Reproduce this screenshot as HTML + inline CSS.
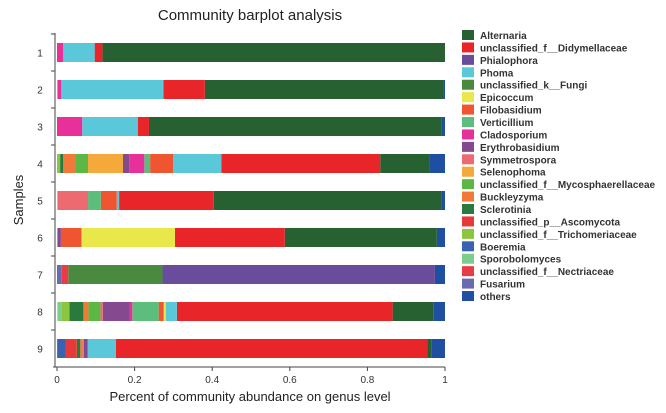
<!DOCTYPE html>
<html><head><meta charset="utf-8"><style>
body{margin:0;background:#fff;}
svg{font-family:"Liberation Sans",Arial,sans-serif;display:block}
</style></head><body>
<svg id="chart" width="666" height="413">
<text x="250" y="20" text-anchor="middle" font-size="15" fill="#222">Community barplot analysis</text>
<text transform="translate(23,200) rotate(-90)" text-anchor="middle" font-size="13" fill="#222">Samples</text>
<text x="250" y="401" text-anchor="middle" font-size="13" fill="#222">Percent of community abundance on genus level</text>
<g id="plot"></g><g id="legend"></g>
</svg>
<script>
const samples = ["1","2","3","4","5","6","7","8","9"];
const seriesNames = ["Alternaria","unclassified_f__Didymellaceae","Phialophora","Phoma","unclassified_k__Fungi","Epicoccum","Filobasidium","Verticillium","Cladosporium","Erythrobasidium","Symmetrospora","Selenophoma","unclassified_f__Mycosphaerellaceae","Buckleyzyma","Sclerotinia","unclassified_p__Ascomycota","unclassified_f__Trichomeriaceae","Boeremia","Sporobolomyces","unclassified_f__Nectriaceae","Fusarium","others"];
const seriesColors = ["#276132","#e8262a","#6a4c9c","#5ac8d8","#4a8a3e","#e8e84a","#ee5530","#5dbd7c","#e8309a","#84498f","#ec6a70","#f4a93a","#5cb844","#f07a3a","#2a7a3e","#e63a3a","#8cc63e","#3a62b0","#7ccc8c","#e83c46","#6a6ab0","#1e4fa0"];
const xTicks = [0,0.2,0.4,0.6,0.8,1];
const xTickLabels = ["0","0.2","0.4","0.6","0.8","1"];
// values[series][sample]
const alternaria   = [0.883,0.615,0.755,0.126,0.586,0.392,0,0.106,0.011];
const didymella    = [0.020,0.107,0.029,0.409,0.244,0.283,0,0.556,0.803];
const phialophora  = [0,0,0,0,0,0,0.702,0,0];
const phoma        = [0.081,0.263,0.143,0.125,0.006,0,0,0.029,0.073];
const fungi        = [0,0,0,0,0,0,0.243,0,0];
const epicoccum    = [0,0,0,0,0,0.241,0,0.005,0];
const filobasidium = [0,0,0,0.059,0.041,0.053,0,0.013,0];
const verticillium = [0,0,0,0.015,0.033,0,0,0.068,0];
const cladosporium = [0.016,0.010,0.065,0.039,0,0,0,0.007,0];
const erythro      = [0,0,0,0.016,0,0.009,0,0.069,0.010];
const symmetro     = [0,0,0,0,0.079,0,0,0.006,0.003];
const selenophoma  = [0,0,0,0.090,0,0,0,0,0];
const mycosph      = [0,0,0,0.031,0,0,0,0.031,0];
const buckley      = [0,0,0,0.033,0,0,0,0.013,0.006];
const sclerotinia  = [0,0,0,0.008,0,0,0,0.036,0.009];
const ascomycota   = [0,0,0,0,0,0,0,0,0.029];
const trichomer    = [0,0,0,0.008,0,0,0,0.021,0];
const boeremia     = [0,0,0,0,0,0,0,0,0.021];
const sporobolo    = [0,0,0,0,0,0,0,0.010,0];
const nectria      = [0,0,0,0,0,0,0.018,0,0];
const fusarium     = [0,0,0,0,0,0,0.011,0,0.001];
const others       = [0,0.004,0.008,0.041,0.010,0.021,0.026,0.029,0.034];
const values = [alternaria,didymella,phialophora,phoma,fungi,epicoccum,filobasidium,verticillium,cladosporium,erythro,symmetro,selenophoma,mycosph,buckley,sclerotinia,ascomycota,trichomer,boeremia,sporobolo,nectria,fusarium,others];

const NS="http://www.w3.org/2000/svg";
const X0=57,X1=445,Y0=33,Y1=367,bandTop=34,band=37,barH=19;
const xScale=v=>X0+(X1-X0)*v;
const yCenter=i=>bandTop+band*i+band/2;
function mk(tag,attrs,parent){const e=document.createElementNS(NS,tag);for(const k in attrs)e.setAttribute(k,attrs[k]);parent.appendChild(e);return e;}
const plot=document.getElementById('plot');
const lg=document.getElementById('legend');
let ax=mk('line',{x1:X0-2,y1:Y0,x2:X0-2,y2:Y1,stroke:'#444','stroke-width':1},plot);


let bx=mk('line',{x1:X0-4,y1:Y1,x2:X1,y2:Y1,stroke:'#444','stroke-width':1},plot);


xTicks.forEach((t,i)=>{
  const tk=mk('line',{x1:xScale(t),y1:Y1,x2:xScale(t),y2:Y1+4,stroke:'#444'},plot);
  
  
  const tl=mk('text',{x:xScale(t),y:Y1+16,'text-anchor':'middle','font-size':10,fill:'#333'},plot);
  tl.textContent=xTickLabels[i];
  
  
});
samples.forEach((s,j)=>{
  const tk=mk('line',{x1:X0-6,y1:bandTop+band*j,x2:X0-2,y2:bandTop+band*j,stroke:'#444'},plot);
  
  
  const tl=mk('text',{x:40,y:yCenter(j)+4,'text-anchor':'middle','font-size':10,fill:'#333'},plot);
  tl.textContent=s;
  
  
  let right=1;
  const order=[values.length-1].concat(values.map((_,k)=>k).slice(0,values.length-1));
  order.forEach(k=>{
    const v=values[k][j]; if(!v) return;
    const r=mk('rect',{x:xScale(right-v),y:yCenter(j)-barH/2,width:xScale(right)-xScale(right-v),height:barH,fill:seriesColors[k]},plot);
    
    
    right-=v;
  });
});
seriesNames.forEach((n,i)=>{
  const y=35+i*12.43;
  const sw=mk('rect',{x:462,y:y-5,width:12,height:10,fill:seriesColors[i]},lg);
  
  
  const t=mk('text',{x:480,y:y+4,'font-size':10,'font-weight':'bold',fill:'#333'},lg);
  t.textContent=n;
  
  
});
</script>
</body></html>
